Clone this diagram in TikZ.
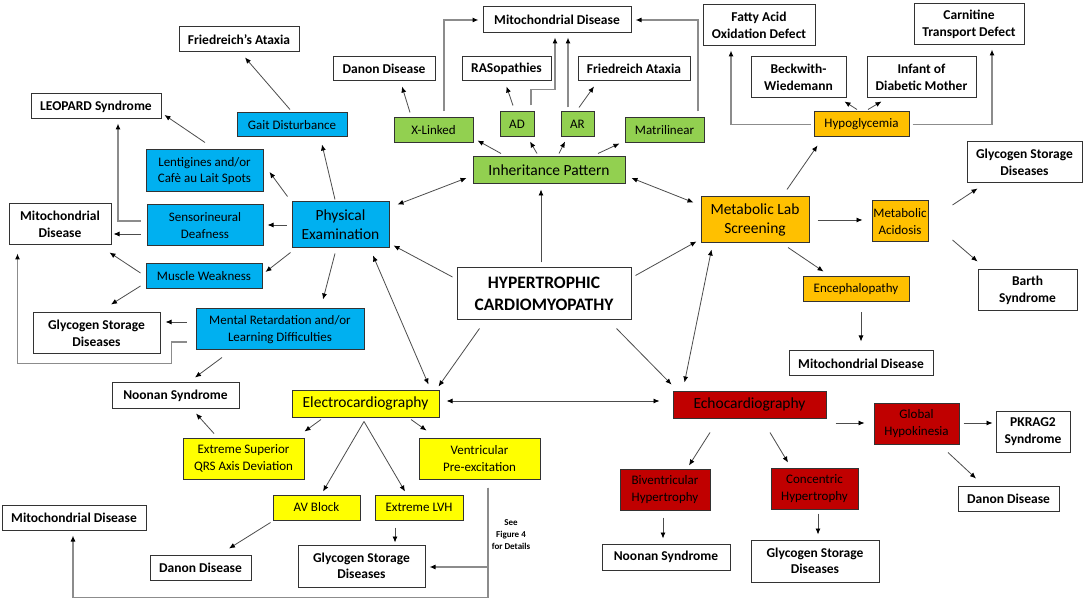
\documentclass[tikz,border=0pt]{standalone}
\usepackage{fontspec}
\setmainfont{Carlito}
\usetikzlibrary{arrows.meta,calc}
\definecolor{cB}{HTML}{00B0F0}
\definecolor{cG}{HTML}{92D050}
\definecolor{cA}{HTML}{FFC000}
\definecolor{cY}{HTML}{FFFF00}
\definecolor{cR}{HTML}{C00000}
\newcommand\mybox[7]{\node[#2,minimum width={#5pt-#3pt},minimum height={#6pt-#4pt}] (#1) at ({(#3+#5)/2},{(#4+#6)/2}) {#7};}
\begin{document}
\begin{tikzpicture}[x=1pt,y=-1pt,
  bx/.style={draw=black!80, line width=1pt, inner sep=1pt, align=center, text=black},
  wb/.style={bx, fill=white, font=\bfseries\fontsize{13.5}{16.5}\selectfont},
  cb/.style={bx, font=\fontsize{13}{16.5}\selectfont},
  mb/.style={bx, font=\fontsize{15.5}{19}\selectfont},
  arr/.style={draw=black!70, line width=0.8pt, -{Latex[length=6pt,width=5pt,color=black]}},
  darr/.style={draw=black!70, line width=0.8pt, {Latex[length=6pt,width=5pt,color=black]}-{Latex[length=6pt,width=5pt,color=black]}},
  elb/.style={draw=black!45, line width=1.1pt, -{Latex[length=6pt,width=5pt,color=black]}}]
\fill[white] (0,0) rectangle (1084,601);
\useasboundingbox (0,0) rectangle (1084,601);

\mybox{friedA}{wb}{179}{27}{299}{52}{Friedreich’s Ataxia}
\mybox{leopard}{wb}{31}{94}{161}{119}{LEOPARD Syndrome}
\mybox{gait}{cb,fill=cB}{237}{113}{347}{137}{Gait Disturbance}
\mybox{lent}{cb,fill=cB}{146}{150}{263}{192}{Lentigines and/or\\Cafè au Lait Spots}
\mybox{danonT}{wb}{333}{57}{435}{81}{Danon Disease}
\mybox{mitoT}{wb}{483}{7}{631}{33}{Mitochondrial Disease}
\mybox{ras}{wb}{462}{57}{551}{81}{RASopathies}
\mybox{friedT}{wb}{578}{57}{690}{81}{Friedreich Ataxia}
\mybox{xlink}{cb,fill=cG}{394}{118}{473}{143}{X-Linked}
\mybox{ad}{cb,fill=cG}{500}{112}{534}{137}{AD}
\mybox{ar}{cb,fill=cG}{561}{112}{594}{137}{AR}
\mybox{matri}{cb,fill=cG}{625}{118}{704}{143}{Matrilinear}
\mybox{inh}{mb,fill=cG}{473}{157}{625}{184}{Inheritance Pattern}
\mybox{fatty}{wb}{703}{5}{815}{46}{Fatty Acid\\Oxidation Defect}
\mybox{carn}{wb}{914}{4}{1024}{45}{Carnitine\\Transport Defect}
\mybox{beck}{wb}{751}{57}{846}{98}{Beckwith-\\Wiedemann}
\mybox{infant}{wb}{867}{57}{976}{98}{Infant of\\Diabetic Mother}
\mybox{hypo}{cb,fill=cA}{814}{112}{909}{137}{Hypoglycemia}
\mybox{glyR}{wb}{967}{142}{1082}{183}{Glycogen Storage\\Diseases}
\mybox{metab}{mb,fill=cA}{701}{197}{809}{243}{Metabolic Lab\\Screening}
\mybox{acid}{cb,fill=cA}{872}{201}{928}{242}{Metabolic\\Acidosis}
\mybox{barth}{wb}{978}{270}{1077}{311}{Barth\\Syndrome}
\mybox{enceph}{cb,fill=cA}{803}{277}{909}{302}{Encephalopathy}
\mybox{mitoM}{wb}{789}{351}{933}{376}{Mitochondrial Disease}
\mybox{mitoL}{wb}{9}{204}{111}{245}{Mitochondrial\\Disease}
\mybox{sens}{cb,fill=cB}{147}{205}{263}{246}{Sensorineural\\Deafness}
\mybox{phys}{mb,fill=cB}{292}{202}{389}{248}{Physical\\Examination}
\mybox{muscle}{cb,fill=cB}{146}{264}{262}{289}{Muscle Weakness}
\mybox{mental}{cb,fill=cB}{196}{309}{364}{350}{Mental Retardation and/or\\Learning Difficulties}
\mybox{glyL}{wb}{33}{313}{160}{354}{Glycogen Storage\\Diseases}
\mybox{noonL}{wb}{112}{383}{239}{408}{Noonan Syndrome}
\mybox{ecg}{mb,fill=cY}{292}{390}{439}{417}{Electrocardiography}
\mybox{qrs}{cb,fill=cY}{183}{438}{304}{479}{Extreme Superior\\QRS Axis Deviation}
\mybox{vent}{cb,fill=cY}{419}{438}{540}{479}{Ventricular\\Pre-excitation}
\mybox{avb}{cb,fill=cY}{273}{495}{360}{520}{AV Block}
\mybox{lvh}{cb,fill=cY}{375}{495}{463}{520}{Extreme LVH}
\mybox{mitoB}{wb}{2}{505}{146}{530}{Mitochondrial Disease}
\mybox{danonB}{wb}{150}{555}{251}{580}{Danon Disease}
\mybox{glyB}{wb}{298}{545}{425}{587}{Glycogen Storage\\Diseases}
\mybox{echo}{mb,fill=cR}{673}{391}{826}{418}{Echocardiography}
\mybox{glob}{cb,fill=cR}{874}{403}{959}{444}{Global\\Hypokinesia}
\mybox{pkrag}{wb}{996}{411}{1070}{452}{PKRAG2\\Syndrome}
\mybox{danonR}{wb}{958}{486}{1059}{511}{Danon Disease}
\mybox{biv}{cb,fill=cR}{620}{469}{710}{510}{Biventricular\\Hypertrophy}
\mybox{conc}{cb,fill=cR}{771}{468}{858}{509}{Concentric\\Hypertrophy}
\mybox{noonR}{wb}{602}{544}{730}{570}{Noonan Syndrome}
\mybox{glyBR}{wb}{751}{540}{879}{582}{Glycogen Storage\\Diseases}
\mybox{hcm}{bx,fill=white,font=\bfseries\fontsize{17.5}{22}\selectfont}{457}{268}{631}{320}{HYPERTROPHIC\\CARDIOMYOPATHY}
\node[font=\bfseries\fontsize{9}{12}\selectfont, align=center, inner sep=0pt] (see) at (511,535) {See\\Figure 4\\for Details};

% inheritance
\draw[elb] ($(xlink.north)+(10.5,-6)$) |- ($(mitoT.west)+(-4,0)$);
\draw[elb] ($(matri.north)+(33.5,-6)$) |- ($(mitoT.east)+(4,0)$);
\draw[elb] ($(ad.north)+(14,-6)$) |- ($(mitoT.south)+(-2,56)$) -- ($(mitoT.south)+(-2,4)$);
\draw[elb] ($(ar.north)+(-9.5,-4)$) -- ($(mitoT.south)+(11,4)$);
\draw[arr] ($(xlink.north)+(-23.5,-5)$) -- ($(danonT.south)+(18,5)$);
\draw[arr] ($(ad.north)+(-4,-6)$) -- ($(ras.south)+(0,5)$);
\draw[arr] ($(ar.north)+(1.5,-4)$) -- ($(friedT.south)+(-40,5)$);
\draw[arr] ($(inh.north)+(-48,-3)$) -- ($(xlink.south east)+(4,-3)$);
\draw[arr] ($(inh.north)+(-12,-3)$) -- ($(ad.south)+(13,4)$);
\draw[arr] ($(inh.north)+(10,-3)$) -- ($(ar.south)+(-12.5,4)$);
\draw[arr] ($(inh.north)+(49,-3)$) -- ($(matri.south west)+(-5,0)$);
\draw[arr] ($(hcm.north)+(-3,-5)$) -- ($(inh.south)+(-8,5)$);
\draw[darr] ($(phys.north east)+(8,3)$) -- ($(inh.west)+(-6,7.5)$);
\draw[darr] ($(inh.east)+(6,7.5)$) -- ($(metab.north west)+(-7,6)$);
% metabolic
\draw[arr] ($(metab.north)+(32,-7)$) -- ($(hypo.south west)+(4,8)$);
\draw[elb] ($(hypo.west)+(-3,0)$) -| ($(fatty.south)+(-28,4)$);
\draw[elb] ($(hypo.east)+(3,0)$) -| ($(carn.south)+(23,4)$);
\draw[arr] ($(hypo.north)+(-4.5,-2)$) -- ($(beck.south east)+(-2,3)$);
\draw[arr] ($(hypo.north)+(6.5,-2)$) -- ($(infant.south west)+(15,3)$);
\draw[arr] ($(metab.east)+(8,0)$) -- ($(acid.west)+(-9,-1.5)$);
\draw[arr] ($(acid.east)+(24,-16.5)$) -- ($(glyR.south west)+(11,5)$);
\draw[arr] ($(acid.east)+(24,18.5)$) -- ($(barth.north west)+(0,-8)$);
\draw[arr] ($(metab.south)+(33,4)$) -- ($(enceph.north west)+(21,-5)$);
\draw[arr] ($(enceph.south)+(5,10)$) -- ($(mitoM.north)+(0,-9)$);
% hcm
\draw[arr] ($(hcm.north east)+(4,8)$) -- ($(metab.south west)+(-4,-2)$);
\draw[darr] ($(metab.south west)+(11,6)$) -- ($(echo.north west)+(12,-8)$);
\draw[arr] ($(hcm.south east)+(-15,8)$) -- ($(echo.north west)+(-1,-6)$);
\draw[arr] ($(hcm.south west)+(23,8)$) -- ($(ecg.north east)+(-1,-3)$);
\draw[arr] ($(hcm.west)+(-4,-17)$) -- ($(phys.south east)+(4,-3)$);
\draw[darr] ($(phys.south)+(32.5,7)$) -- ($(ecg.north east)+(-11,-5)$);
\draw[darr] ($(ecg.east)+(7,-2.5)$) -- ($(echo.west)+(-13,-3.5)$);
% physical
\draw[arr] ($(phys.north)+(-5.5,-2)$) -- ($(gait.south)+(30,7)$);
\draw[arr] ($(gait.north)+(-2,-3)$) -- ($(friedA.south)+(6,5)$);
\draw[arr] ($(phys.north west)+(-4,-5)$) -- ($(lent.east)+(6,1)$);
\draw[arr] ($(lent.north)+(0.5,-7)$) -- ($(leopard.east)+(3,8.5)$);
\draw[elb] ($(sens.west)+(-6,-4.5)$) -| ($(leopard.south)+(22,4)$);
\draw[arr] ($(phys.west)+(-5,0)$) -- ($(sens.east)+(4,-0.5)$);
\draw[arr] ($(sens.west)+(-6,8.5)$) -- ($(mitoL.east)+(2,9.5)$);
\draw[arr] ($(phys.south west)+(-1,4)$) -- ($(muscle.east)+(3,-4.5)$);
\draw[arr] ($(muscle.west)+(-5,-3.5)$) -- ($(mitoL.south east)+(-2,7)$);
\draw[arr] ($(muscle.west)+(-5,9.5)$) -- ($(glyL.north)+(14.5,-8)$);
\draw[arr] ($(phys.south)+(-5.5,5)$) -- ($(mental.north)+(43,-9)$);
\draw[arr] ($(mental.west)+(-9,-7.5)$) -- ($(glyL.east)+(5,-11.5)$);
\draw[elb] ($(mental.west)+(-9,12.5)$) -- ++(-15,0) |- ($(mitoL.south west)+(9,118)$) -- ($(mitoL.south west)+(9,8)$);
\draw[arr] ($(mental.south)+(-58,7)$) -- ($(noonL.north)+(19.5,-5)$);
% ecg
\draw[arr] ($(ecg.south)+(-44.5,2)$) -- ($(qrs.north east)+(0,-6)$);
\draw[arr] ($(qrs.north)+(-29.5,-4)$) -- ($(noonL.south)+(20.5,5)$);
\draw[arr] ($(ecg.south)+(-1.5,4)$) -- ($(avb.north)+(6.5,-3)$);
\draw[arr] ($(ecg.south)+(-1.5,4)$) -- ($(lvh.north)+(-14,-3)$);
\draw[arr] ($(ecg.south)+(45.5,2)$) -- ($(vent.north west)+(8,-7)$);
\draw[arr] ($(avb.south west)+(-2,2)$) -- ($(danonB.north)+(28.5,-6)$);
\draw[arr] ($(lvh.south)+(-24,7)$) -- ($(glyB.north)+(33.5,-2)$);
\draw[elb] ($(vent.south)+(8.5,8)$) |- ($(glyB.east)+(4,1)$);
\draw[elb] ($(vent.south)+(8.5,8)$) -- ++(0,110) -| ($(mitoB.south)+(-1,5)$);
% echo
\draw[arr] ($(echo.east)+(9,18.5)$) -- ($(glob.west)+(-9,-0.5)$);
\draw[arr] ($(glob.east)+(4,-0.5)$) -- ($(pkrag.west)+(-3,-8.5)$);
\draw[arr] ($(glob.south)+(31.5,8)$) -- ($(danonR.north)+(-32.5,-7)$);
\draw[arr] ($(echo.south)+(-39.5,14)$) -- ($(biv.north)+(24,-3)$);
\draw[arr] ($(echo.south)+(20.5,14)$) -- ($(conc.north)+(-26.5,-5)$);
\draw[arr] ($(biv.south)+(-2,7)$) -- ($(noonR.north)+(-3,-5)$);
\draw[arr] ($(conc.south)+(3.5,4)$) -- ($(glyBR.north)+(3,-5)$);
\end{tikzpicture}
\end{document}
